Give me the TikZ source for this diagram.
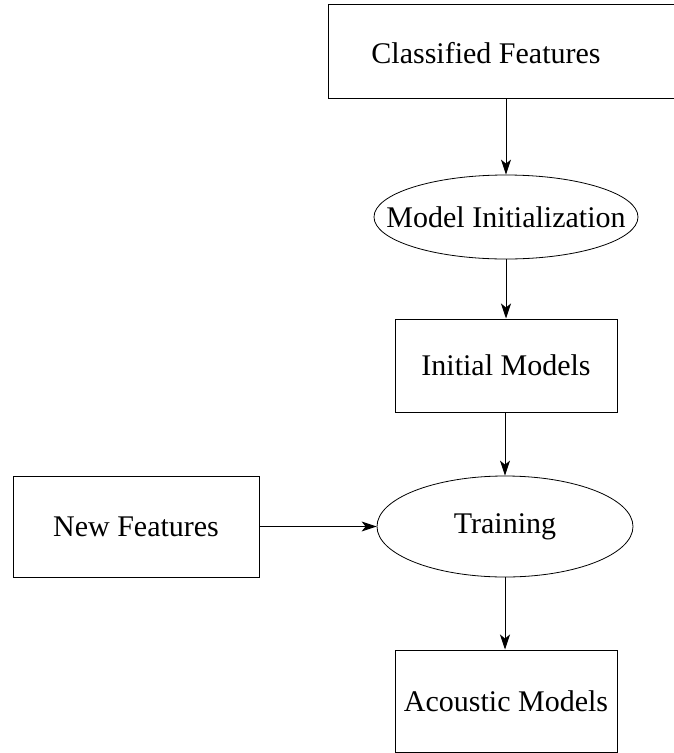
\documentclass[tikz,border=0pt]{standalone}
\usepackage{fontspec}
\setmainfont{Liberation Serif}
\usetikzlibrary{arrows.meta,shapes.geometric}
\begin{document}
\begin{tikzpicture}[x=1pt,y=-1pt,
  every node/.style={font=\fontsize{30}{36}\selectfont, inner sep=0pt},
  box/.style={draw, line width=1pt},
  oval/.style={draw, ellipse, line width=0.8pt},
  flow/.style={line width=1pt, -{Stealth[length=15pt,width=10pt,inset=4pt]}}]
  \useasboundingbox (0,0) rectangle (673,753);
  % top box runs past the right edge of the page
  \node[box, minimum width=392pt, minimum height=94pt] (cfbox) at (524,51) {};
  \node (cf) at (486,53) {Classified Features};
  % ellipses are drawn empty, their labels placed on top
  \node[oval, minimum width=264pt, minimum height=84pt] (mi) at (506,217) {};
  \node at (mi) {Model Initialization};
  \node[box, minimum width=222pt, minimum height=93pt] (im) at (506,365.5) {Initial Models};
  \node[oval, minimum width=256pt, minimum height=101pt] (tr) at (505,526.5) {};
  \node at (tr) {Training};
  \node[box, minimum width=246pt, minimum height=101pt] (nf) at (136,526.5) {New Features};
  \node[box, minimum width=222pt, minimum height=102pt] (am) at (506,701) {Acoustic Models};
  \draw[flow] (cfbox.south -| mi.north) -- (mi.north);
  \draw[flow] (mi.south) -- (im.north -| mi.south);
  \draw[flow] (im.south -| tr.north) -- (tr.north);
  \draw[flow] (nf.east |- tr.west) -- (tr.west);
  \draw[flow] (tr.south) -- (am.north -| tr.south);
\end{tikzpicture}
\end{document}
